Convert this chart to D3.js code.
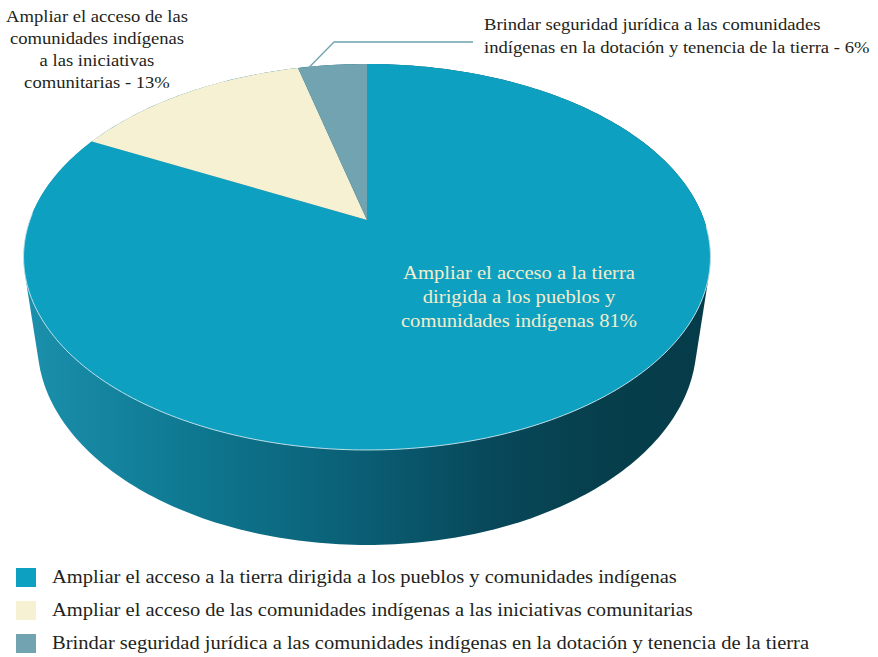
<!DOCTYPE html>
<html>
<head>
<meta charset="utf-8">
<script src="https://cdn.jsdelivr.net/npm/d3@7"></script>
<style>
  html, body { margin: 0; padding: 0; background: #ffffff; }
  svg { display: block; }
  text { font-family: "Liberation Serif", "DejaVu Serif", serif; }
</style>
</head>
<body>
<svg id="chart" width="878" height="657"></svg>
<script>
// ---- data ----
const categories = [
  "Ampliar el acceso a la tierra dirigida a los pueblos y comunidades indígenas",
  "Ampliar el acceso de las comunidades indígenas a las iniciativas comunitarias",
  "Brindar seguridad jurídica a las comunidades indígenas en la dotación y tenencia de la tierra"
];
const values = [82.6, 13.5, 3.9];
const sliceColors = ["#0ea0c1", "#f7f1d3", "#71a3b0"];
const labelLines = [
  ["Ampliar el acceso a la tierra", "dirigida a los pueblos y", "comunidades indígenas 81%"],
  ["Ampliar el acceso de las", "comunidades indígenas", "a las iniciativas", "comunitarias - 13%"],
  ["Brindar seguridad jurídica a las comunidades", "indígenas en la dotación y tenencia de la tierra - 6%"]
];

// ---- 3D projection of a cylinder ----
const svg = d3.select("#chart");
const x0 = 367, y0 = 220, f = 1467, L = 4.352;
const sinP = 0.5515, cosP = 0.834, h = 0.32;
function project(u, v, Y) {
  const depth = L - Y * sinP + v * cosP;
  const up = Y * cosP + v * sinP;
  return [x0 + f * u / depth, y0 - f * up / depth];
}
function rim(theta, Y) { return project(Math.sin(theta), Math.cos(theta), Y); }

// stretch helper: the reference face (Minion-like) is wider than Times
const STRETCH = 1.07;
function widen(sel) {
  sel.each(function () {
    const len = this.getComputedTextLength();
    d3.select(this).attr("textLength", len * STRETCH).attr("lengthAdjust", "spacingAndGlyphs");
  });
}

const pie = d3.pie().sort(null).startAngle(0).endAngle(2 * Math.PI)(values);

// side gradient
const defs = svg.append("defs");
const grad = defs.append("linearGradient").attr("id", "side")
  .attr("gradientUnits", "userSpaceOnUse")
  .attr("x1", 25).attr("y1", 0).attr("x2", 711).attr("y2", 0);
[[0, "#1b90ac"], [0.25, "#0e7790"], [0.5, "#0a5d73"], [0.68, "#08485a"], [0.85, "#063e4b"], [1, "#063c49"]]
  .forEach(([o, c]) => grad.append("stop").attr("offset", o).attr("stop-color", c));

// cylinder silhouette (hull of top and bottom rims)
const N = 360;
const pts = [];
for (let i = 0; i < N; i++) {
  const t = i / N * 2 * Math.PI;
  pts.push(rim(t, 0));
  pts.push(rim(t, -h));
}
const hull = d3.polygonHull(pts);
svg.append("path")
  .attr("d", "M" + hull.map(p => p.join(",")).join("L") + "Z")
  .attr("fill", "url(#side)");

// top faces
const line = d3.line();
pie.forEach((d, i) => {
  const n = Math.max(4, Math.ceil((d.endAngle - d.startAngle) / (Math.PI / 180)));
  const p = [project(0, 0, 0)];
  for (let k = 0; k <= n; k++) {
    p.push(rim(d.startAngle + (d.endAngle - d.startAngle) * k / n, 0));
  }
  svg.append("path")
    .attr("d", line(p) + "Z")
    .attr("fill", sliceColors[i]);
});

// light edge along the front of the top face
const edge = [];
for (let k = 0; k <= 180; k++) {
  const t = (92 + (272 - 92) * k / 180) * Math.PI / 180;
  edge.push(rim(t, 0));
}
svg.append("path").attr("d", line(edge)).attr("fill", "none")
  .attr("stroke", "#cfe9ef").attr("stroke-width", 0.9);

// ---- labels ----
// main slice label inside
const mainLabel = svg.append("text").attr("fill", "#f4edcc").attr("font-size", 19.3)
  .attr("text-anchor", "middle");
labelLines[0].forEach((s, k) => mainLabel.append("tspan")
  .attr("x", 519).attr("y", 279 + k * 24).text(s));
widen(mainLabel.selectAll("tspan"));

// second slice label (top-left)
const l2 = svg.append("text").attr("fill", "#231f20").attr("font-size", 17.4)
  .attr("text-anchor", "middle");
labelLines[1].forEach((s, k) => l2.append("tspan")
  .attr("x", 97).attr("y", 22 + k * 22).text(s));
widen(l2.selectAll("tspan"));

// third slice label (top-right) with leader line
const grey = pie[2];
const anchor = rim(grey.startAngle + 0.17 * (grey.endAngle - grey.startAngle), 0);
svg.append("path")
  .attr("d", line([anchor, [334, 42], [473, 42]]))
  .attr("fill", "none").attr("stroke", "#6fa3b0").attr("stroke-width", 1.3);
const l3 = svg.append("text").attr("fill", "#231f20").attr("font-size", 17.4);
labelLines[2].forEach((s, k) => l3.append("tspan")
  .attr("x", 484).attr("y", 30 + k * 23).text(s));
widen(l3.selectAll("tspan"));

// ---- legend ----
const legend = svg.append("g");
categories.forEach((c, i) => {
  const y = 577 + i * 33;
  legend.append("rect").attr("x", 16).attr("y", y - 9).attr("width", 20).attr("height", 19)
    .attr("fill", sliceColors[i]);
  legend.append("text").attr("x", 52).attr("y", y + 6).attr("font-size", 19.2)
    .attr("fill", "#231f20").text(c);
});
widen(legend.selectAll("text"));
</script>
</body>
</html>
